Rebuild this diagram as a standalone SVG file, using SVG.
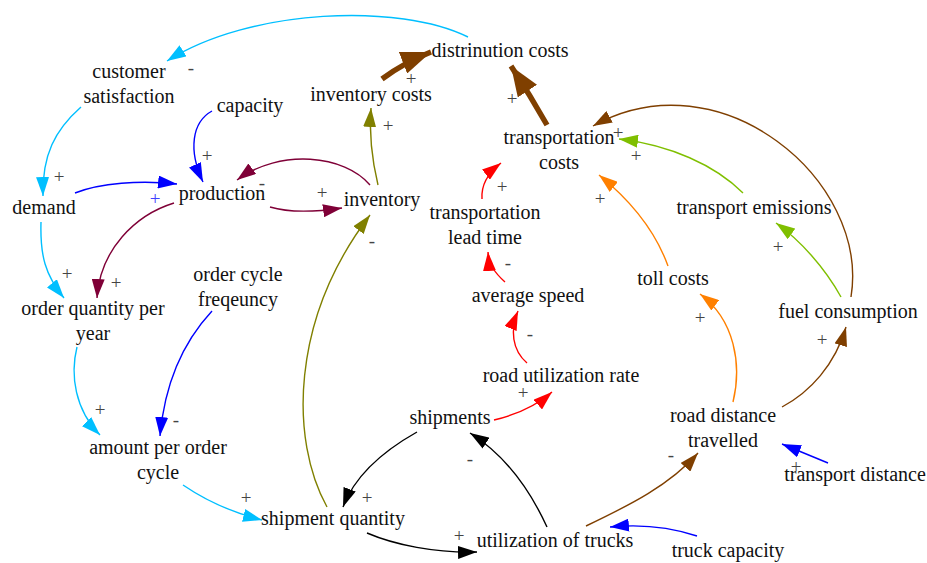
<svg xmlns="http://www.w3.org/2000/svg" width="927" height="563" viewBox="0 0 927 563">
<style>
.n{font-size:20px;fill:#111;text-anchor:middle}
.p{font-size:19px;fill:#444;text-anchor:middle}
.c{fill:none;stroke-width:1.4}
.cy{stroke:#00BFFF}.bl{stroke:#0000FF}.mr{stroke:#7F0037}.ol{stroke:#808000}.br{stroke:#7F3F00}.gr{stroke:#7FBF00}.or{stroke:#FF8000}.rd{stroke:#FF0000}.bk{stroke:#000}
.thick{stroke-width:5.5}
</style>
<defs>
<marker id="a-cy" markerUnits="userSpaceOnUse" markerWidth="20" markerHeight="13" refX="19" refY="6.5" orient="auto"><path d="M0,0L19,6.5L0,13z" fill="#00BFFF"/></marker>
<marker id="a-bl" markerUnits="userSpaceOnUse" markerWidth="20" markerHeight="13" refX="19" refY="6.5" orient="auto"><path d="M0,0L19,6.5L0,13z" fill="#0000FF"/></marker>
<marker id="a-mr" markerUnits="userSpaceOnUse" markerWidth="20" markerHeight="13" refX="19" refY="6.5" orient="auto"><path d="M0,0L19,6.5L0,13z" fill="#7F0037"/></marker>
<marker id="a-ol" markerUnits="userSpaceOnUse" markerWidth="20" markerHeight="13" refX="19" refY="6.5" orient="auto"><path d="M0,0L19,6.5L0,13z" fill="#808000"/></marker>
<marker id="a-br" markerUnits="userSpaceOnUse" markerWidth="20" markerHeight="13" refX="19" refY="6.5" orient="auto"><path d="M0,0L19,6.5L0,13z" fill="#7F3F00"/></marker>
<marker id="a-gr" markerUnits="userSpaceOnUse" markerWidth="20" markerHeight="13" refX="19" refY="6.5" orient="auto"><path d="M0,0L19,6.5L0,13z" fill="#7FBF00"/></marker>
<marker id="a-or" markerUnits="userSpaceOnUse" markerWidth="20" markerHeight="13" refX="19" refY="6.5" orient="auto"><path d="M0,0L19,6.5L0,13z" fill="#FF8000"/></marker>
<marker id="a-rd" markerUnits="userSpaceOnUse" markerWidth="20" markerHeight="13" refX="19" refY="6.5" orient="auto"><path d="M0,0L19,6.5L0,13z" fill="#FF0000"/></marker>
<marker id="a-bk" markerUnits="userSpaceOnUse" markerWidth="20" markerHeight="13" refX="19" refY="6.5" orient="auto"><path d="M0,0L19,6.5L0,13z" fill="#000"/></marker>
<marker id="a-brT" markerUnits="userSpaceOnUse" markerWidth="31" markerHeight="23" refX="30" refY="11.5" orient="auto"><path d="M0,0L30,11.5L0,23z" fill="#7F3F00"/></marker>
</defs>

<g id="connectors">
<path class="c cy" marker-end="url(#a-cy)" d="M468,37 C400,3 250,8 167,61"/>
<path class="c cy" marker-end="url(#a-cy)" d="M81,107 C55,130 42,155 43,196"/>
<path class="c bl" marker-end="url(#a-bl)" d="M212,111 C192,122 188,150 203,182"/>
<path class="c bl" marker-end="url(#a-bl)" d="M75,193 C100,183 140,180 177,184"/>
<path class="c cy" marker-end="url(#a-cy)" d="M41,222 C40,255 45,275 64,298"/>
<path class="c mr" marker-end="url(#a-mr)" d="M174,203 C135,215 100,250 97,298"/>
<path class="c mr" marker-end="url(#a-mr)" d="M370,185 C345,155 280,148 237,180"/>
<path class="c mr" marker-end="url(#a-mr)" d="M270,207 C290,213 315,212 342,208"/>
<path class="c ol" marker-end="url(#a-ol)" d="M378,185 C372,160 369,135 371,108"/>
<path class="c br thick" marker-end="url(#a-brT)" d="M382,79 Q405,62 431,52"/>
<path class="c br thick" marker-end="url(#a-brT)" d="M547,125 Q530,95 511,66"/>
<path class="c br" marker-end="url(#a-br)" d="M851,297 C870,180 720,55 593,126"/>
<path class="c gr" marker-end="url(#a-gr)" d="M743,193 C715,165 670,145 619,139"/>
<path class="c gr" marker-end="url(#a-gr)" d="M841,297 C825,268 800,240 776,223"/>
<path class="c or" marker-end="url(#a-or)" d="M668,266 C655,230 630,200 599,175"/>
<path class="c or" marker-end="url(#a-or)" d="M733,402 C742,365 735,320 700,294"/>
<path class="c br" marker-end="url(#a-br)" d="M782,407 C810,392 835,365 846,327"/>
<path class="c br" marker-end="url(#a-br)" d="M586,526 C630,505 670,485 698,453"/>
<path class="c bl" marker-end="url(#a-bl)" d="M828,463 L782,444"/>
<path class="c bl" marker-end="url(#a-bl)" d="M697,536 C670,527 640,524 610,527"/>
<path class="c rd" marker-end="url(#a-rd)" d="M482,199 C481,185 488,173 501,163"/>
<path class="c rd" marker-end="url(#a-rd)" d="M505,282 C495,273 489,265 488,252"/>
<path class="c rd" marker-end="url(#a-rd)" d="M527,363 C512,350 510,330 518,311"/>
<path class="c rd" marker-end="url(#a-rd)" d="M494,420 C515,415 535,407 552,392"/>
<path class="c bk" marker-end="url(#a-bk)" d="M417,432 C385,450 355,475 343,507"/>
<path class="c bk" marker-end="url(#a-bk)" d="M367,533 C395,545 435,553 477,552"/>
<path class="c bk" marker-end="url(#a-bk)" d="M547,527 C530,490 505,455 470,433"/>
<path class="c ol" marker-end="url(#a-ol)" d="M327,507 C290,440 290,320 370,215"/>
<path class="c cy" marker-end="url(#a-cy)" d="M77,347 C70,375 75,410 100,435"/>
<path class="c bl" marker-end="url(#a-bl)" d="M212,311 C185,340 165,380 160,436"/>
<path class="c cy" marker-end="url(#a-cy)" d="M183,485 C205,500 230,512 262,520"/>
</g>

<g id="polarities" font-family="Liberation Serif, Tinos, DejaVu Serif, serif">
<text class="p" x="191" y="74">-</text>
<text class="p" x="59" y="183">+</text>
<text class="p" x="207" y="162">+</text>
<text class="p" x="155" y="205" style="fill:#4040FF">+</text>
<text class="p" x="262" y="189">-</text>
<text class="p" x="322" y="199">+</text>
<text class="p" x="67" y="280">+</text>
<text class="p" x="116" y="289">+</text>
<text class="p" x="388" y="132">+</text>
<text class="p" x="411" y="85">+</text>
<text class="p" x="512" y="105">+</text>
<text class="p" x="618" y="139">+</text>
<text class="p" x="636" y="162">+</text>
<text class="p" x="600" y="205">+</text>
<text class="p" x="502" y="193">+</text>
<text class="p" x="508" y="269">-</text>
<text class="p" x="530" y="340">-</text>
<text class="p" x="778" y="253">+</text>
<text class="p" x="700" y="324">+</text>
<text class="p" x="822" y="346">+</text>
<text class="p" x="523" y="399">+</text>
<text class="p" x="671" y="461">-</text>
<text class="p" x="796" y="473">+</text>
<text class="p" x="470" y="465">-</text>
<text class="p" x="367" y="504">+</text>
<text class="p" x="459" y="542">+</text>
<text class="p" x="372" y="247">-</text>
<text class="p" x="100" y="416">+</text>
<text class="p" x="176" y="426">-</text>
<text class="p" x="246" y="504">+</text>
</g>

<g id="nodes" font-family="Liberation Serif, Tinos, DejaVu Serif, serif">
<g id="distrinution-costs"><text class="n" x="500" y="57">distrinution costs</text></g>
<g id="inventory-costs"><text class="n" x="371" y="101">inventory costs</text></g>
<g id="customer-satisfaction"><text class="n" x="129" y="78">customer</text><text class="n" x="129" y="103">satisfaction</text></g>
<g id="capacity"><text class="n" x="250" y="112">capacity</text></g>
<g id="demand"><text class="n" x="44" y="214">demand</text></g>
<g id="production"><text class="n" x="222" y="200">production</text></g>
<g id="inventory"><text class="n" x="382" y="206">inventory</text></g>
<g id="transportation-costs"><text class="n" x="559" y="144">transportation</text><text class="n" x="559" y="169">costs</text></g>
<g id="transport-emissions"><text class="n" x="754" y="214">transport emissions</text></g>
<g id="transportation-lead-time"><text class="n" x="485" y="219">transportation</text><text class="n" x="485" y="244">lead time</text></g>
<g id="order-quantity-per-year"><text class="n" x="93" y="315">order quantity per</text><text class="n" x="93" y="340">year</text></g>
<g id="order-cycle-freqeuncy"><text class="n" x="238" y="281">order cycle</text><text class="n" x="238" y="306">freqeuncy</text></g>
<g id="toll-costs"><text class="n" x="673" y="285">toll costs</text></g>
<g id="average-speed"><text class="n" x="528" y="302">average speed</text></g>
<g id="fuel-consumption"><text class="n" x="848" y="318">fuel consumption</text></g>
<g id="road-utilization-rate"><text class="n" x="561" y="382">road utilization rate</text></g>
<g id="shipments"><text class="n" x="450" y="424">shipments</text></g>
<g id="road-distance-travelled"><text class="n" x="723" y="422">road distance</text><text class="n" x="723" y="447">travelled</text></g>
<g id="transport-distance"><text class="n" x="855" y="481">transport distance</text></g>
<g id="amount-per-order-cycle"><text class="n" x="158" y="454">amount per order</text><text class="n" x="158" y="479">cycle</text></g>
<g id="shipment-quantity"><text class="n" x="333" y="525">shipment quantity</text></g>
<g id="utilization-of-trucks"><text class="n" x="555" y="547">utilization of trucks</text></g>
<g id="truck-capacity"><text class="n" x="728" y="557">truck capacity</text></g>
</g>
</svg>
